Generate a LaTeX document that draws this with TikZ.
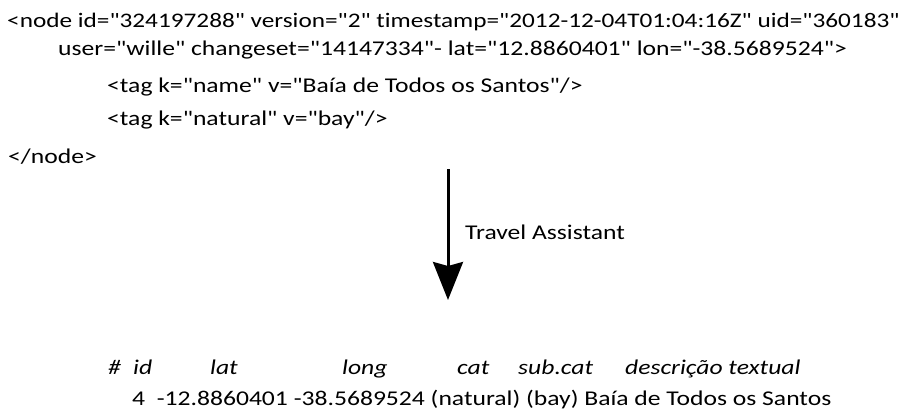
\documentclass[tikz,border=0pt]{standalone}
\usepackage{fontspec}
\newfontfamily\cf{Carlito}[FakeStretch=1.22,Ligatures=NoCommon]
\usetikzlibrary{arrows.meta}
\begin{document}
\begin{tikzpicture}[x=1pt,y=-1pt,
  txt/.style={anchor=base west,inner sep=0pt,font=\fontsize{21}{25}\cf},
  itx/.style={anchor=base west,inner sep=0pt,font=\fontsize{21}{25}\cf\itshape},
  flow/.style={line width=3pt,-{Stealth[length=38pt,width=30pt,inset=4pt]}}]
\useasboundingbox (0,0) rectangle (911,410);
\node[txt,font=\fontsize{20.7}{25}\cf] (l1) at (7,27) {<node id="324197288" version="2" timestamp="2012-12-04T01:04:16Z" uid="360183"};
\node[txt] (l2) at (58,55) {user="wille" changeset="14147334"- lat="12.8860401" lon="-38.5689524">};
\node[txt] (l3) at (107,92) {<tag k="name" v="Baía de Todos os Santos"/>};
\node[txt] (l4) at (107,125) {<tag k="natural" v="bay"/>};
\node[txt] (l5) at (8,163) {</node>};
\coordinate (top) at (448,169);
\coordinate (tip) at (448,300);
\draw[flow] (top) -- (tip);
\node[txt] (ta) at (465,239) {Travel Assistant};
\node[itx] (h1) at (108,374) {\#};
\node[itx] (h2) at (133,374) {id};
\node[itx] (h3) at (210,374) {lat};
\node[itx] (h4) at (342,374) {long};
\node[itx] (h5) at (457,374) {cat};
\node[itx] (h6) at (518,374) {sub.cat};
\node[itx] (h7) at (625,374) {descrição textual};
\node[txt] (row) at (132,405) {4\ \ -12.8860401 -38.5689524 (natural) (bay) Baía de Todos os Santos};
\end{tikzpicture}
\end{document}
